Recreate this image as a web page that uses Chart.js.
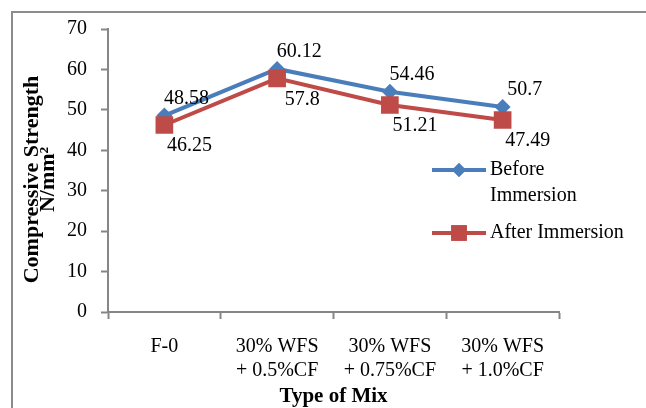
<!DOCTYPE html>
<html>
<head>
<meta charset="utf-8">
<script src="https://cdn.jsdelivr.net/npm/chart.js@4/dist/chart.umd.min.js"></script>
<style>
  html, body { margin: 0; padding: 0; background: #fff; overflow: hidden; }
  #wrap { position: relative; width: 646px; height: 408px; }
  #frame { position: absolute; left: 11px; top: 11px; width: 700px; height: 500px;
           border: 2px solid #8c8c8c; box-sizing: border-box; }
  canvas { position: absolute; left: 0; top: 0; }
</style>
</head>
<body>
<div id="wrap">
  <div id="frame"></div>
  <canvas id="strengthChart" width="646" height="408"></canvas>
</div>
<script>
// Chart data
const mixLabels = [
    ['F-0'],
    ['30% WFS', '+ 0.5%CF'],
    ['30% WFS', '+ 0.75%CF'],
    ['30% WFS', '+ 1.0%CF']
];
const beforeImmersion = [48.58, 60.12, 54.46, 50.7];
const afterImmersion = [46.25, 57.8, 51.21, 47.49];
const seriesNames = [['Before', 'Immersion'], ['After Immersion']];
const yTitleLines = ['Compressive Strength', 'N/mm²'];

const BLUE = '#4a7ebb';
const RED = '#be4b48';
const AXIS_GREY = '#868686';
const SERIF = '"Liberation Serif", "Times New Roman", serif';

// Draws the value labels next to each point
const valueLabels = {
    id: 'valueLabels',
    afterDatasetsDraw(chart) {
        const ctx = chart.ctx;
        ctx.save();
        ctx.font = '20px ' + SERIF;
        ctx.fillStyle = '#000';
        ctx.textAlign = 'center';
        ctx.textBaseline = 'middle';
        chart.data.datasets.forEach((ds, i) => {
            const meta = chart.getDatasetMeta(i);
            meta.data.forEach((pt, j) => {
                const dx = i === 0 ? 22 : 25;
                const dy = i === 0 ? -17 : 21;
                ctx.fillText(String(ds.data[j]), pt.x + dx, pt.y + dy);
            });
        });
        ctx.restore();
    }
};

// Rotated two-line y axis title (a bit below the plot centre, like the original)
const yAxisTitle = {
    id: 'yAxisTitle',
    afterDraw(chart) {
        const ctx = chart.ctx;
        const area = chart.chartArea;
        ctx.save();
        ctx.translate(32, (area.top + area.bottom) / 2 + 9);
        ctx.rotate(-Math.PI / 2);
        ctx.font = 'bold 22px ' + SERIF;
        ctx.fillStyle = '#000';
        ctx.textAlign = 'center';
        ctx.textBaseline = 'middle';
        yTitleLines.forEach((line, k) => {
            ctx.fillText(line, 0, k * 16);
        });
        ctx.restore();
    }
};

// Legend drawn to the right of the plot, Excel style
const sideLegend = {
    id: 'sideLegend',
    afterDraw(chart) {
        const ctx = chart.ctx;
        const rows = [
            { color: BLUE, style: 'rectRot', radius: 7, y: 170 },
            { color: RED, style: 'rect', radius: 11, y: 233 }
        ];
        ctx.save();
        rows.forEach((row, i) => {
            ctx.strokeStyle = row.color;
            ctx.lineWidth = 4;
            ctx.beginPath();
            ctx.moveTo(432, row.y);
            ctx.lineTo(486, row.y);
            ctx.stroke();
            ctx.fillStyle = row.color;
            Chart.helpers.drawPoint(ctx, { pointStyle: row.style, radius: row.radius, borderWidth: 0 }, 459, row.y);
            ctx.fill();
            ctx.fillStyle = '#000';
            ctx.font = '20px ' + SERIF;
            ctx.textAlign = 'left';
            ctx.textBaseline = 'middle';
            seriesNames[i].forEach((line, k) => {
                ctx.fillText(line, 490, row.y + k * 26);
            });
        });
        ctx.restore();
    }
};

new Chart(document.getElementById('strengthChart'), {
    type: 'line',
    data: {
        labels: mixLabels,
        datasets: [
            {
                label: 'Before Immersion',
                data: beforeImmersion,
                borderColor: BLUE,
                backgroundColor: BLUE,
                borderWidth: 4,
                pointStyle: 'rectRot',
                pointRadius: 8,
                pointBorderWidth: 0,
                tension: 0,
                order: 1
            },
            {
                label: 'After Immersion',
                data: afterImmersion,
                borderColor: RED,
                backgroundColor: RED,
                borderWidth: 4,
                pointStyle: 'rect',
                pointRadius: 12.5,
                pointBorderWidth: 0,
                tension: 0,
                order: 0
            }
        ]
    },
    options: {
        responsive: false,
        animation: false,
        layout: { padding: { left: 14, top: 29, right: 87, bottom: 0 } },
        plugins: {
            legend: { display: false },
            tooltip: { enabled: false }
        },
        scales: {
            x: {
                offset: true,
                grid: {
                    offset: true,
                    drawOnChartArea: false,
                    tickLength: 7,
                    tickColor: AXIS_GREY,
                    tickWidth: 2
                },
                border: { color: AXIS_GREY, width: 2 },
                ticks: {
                    color: '#000',
                    padding: 16,
                    maxRotation: 0,
                    font: { family: SERIF, size: 20, lineHeight: 1.2 }
                },
                title: {
                    display: true,
                    text: 'Type of Mix',
                    color: '#000',
                    font: { family: SERIF, size: 21, weight: 'bold', lineHeight: 1.0 },
                    padding: { top: 0, bottom: 1 }
                },
                afterFit(scale) { scale.height = 96; }
            },
            y: {
                min: 0,
                max: 70,
                ticks: {
                    stepSize: 10,
                    color: '#000',
                    padding: 14,
                    font: { family: SERIF, size: 20 }
                },
                grid: {
                    drawOnChartArea: false,
                    tickLength: 7,
                    tickColor: AXIS_GREY,
                    tickWidth: 2
                },
                border: { color: AXIS_GREY, width: 2 },
                afterFit(scale) { scale.width = 94; }
            }
        }
    },
    plugins: [valueLabels, yAxisTitle, sideLegend]
});
</script>
</body>
</html>
